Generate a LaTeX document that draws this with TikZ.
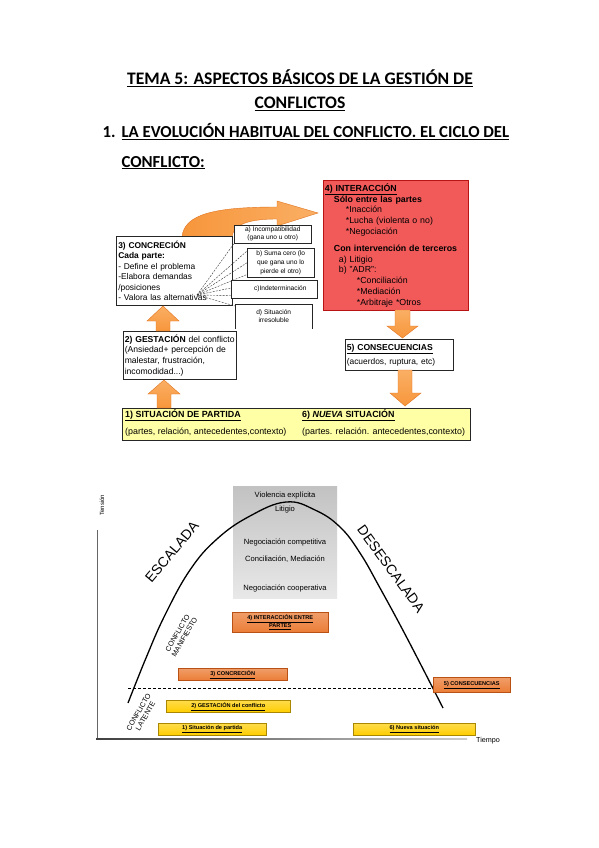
\documentclass[tikz,border=0pt]{standalone}
\usepackage{fontspec}
\setmainfont{Liberation Sans}
\newfontfamily\titlefont{Carlito}
\definecolor{arrowor}{RGB}{247,150,60}
\definecolor{arrowlt}{RGB}{250,175,100}
\definecolor{arrowbd}{RGB}{225,115,30}
\definecolor{redfill}{RGB}{242,90,90}
\definecolor{redbd}{RGB}{185,20,20}
\definecolor{yelfill}{RGB}{255,255,165}
\definecolor{barorange}{RGB}{235,125,55}
\definecolor{barorangebd}{RGB}{185,80,20}
\definecolor{baryellow}{RGB}{255,205,0}
\definecolor{baryellowbd}{RGB}{170,135,0}
\newcommand\fsz[2]{\fontsize{#1}{#2}\selectfont}
\begin{document}
\begin{tikzpicture}[x=1pt,y=-1pt,
  box/.style={draw=black!85, line width=0.6pt, fill=white, anchor=north west, inner sep=0pt, align=left},
  sbox/.style={draw=black!85, line width=0.5pt, fill=white, anchor=north west, inner sep=0pt, align=center, font=\fsz{6.6}{8}},
  fan/.style={black!80, line width=0.4pt, dash pattern=on 2pt off 1.2pt},
  blk/.style={top color=arrowlt, bottom color=arrowor, draw=arrowbd, line width=0.4pt},
  obar/.style={draw=barorangebd, line width=0.5pt, top color=barorange!75!white, bottom color=barorange, anchor=north west, inner sep=0pt, font=\fsz{5.6}{6.4}\bfseries, align=center},
  ybar/.style={draw=baryellowbd, line width=0.5pt, top color=baryellow!70!white, bottom color=baryellow, anchor=north west, inner sep=0pt, font=\fsz{5.6}{6.4}\bfseries, align=center},
  grtxt/.style={font=\fsz{7.6}{9}},
  ttl/.style={font=\titlefont\fsz{17.6}{21}\bfseries},
  ttlb/.style={font=\titlefont\fsz{16.8}{21}\bfseries}
]
\useasboundingbox[fill=white] (0,0) rectangle (599,848);

% ---------- titles
\node[ttl, anchor=base] (t1) at (300,85) {\underline{TEMA 5: ASPECTOS BÁSICOS DE LA GESTIÓN DE}};
\node[ttl, anchor=base] (t2) at (300,109) {\underline{CONFLICTOS}};
\node[ttlb, anchor=base west] (n1) at (99,138) {1.};
\node[ttlb, anchor=base west] (t3) at (118,138) {\underline{LA EVOLUCIÓN HABITUAL DEL CONFLICTO. EL CICLO DEL}};
\node[ttlb, anchor=base west] (t4) at (118,167) {\underline{CONFLICTO:}};

% ---------- top diagram
% curved arrow 3 -> 4
\shade[left color=arrowor, right color=arrowlt, draw=arrowbd, line width=0.4pt]
  (182,237) .. controls (184,214) and (215,207) .. (277,207) -- (277,201) -- (318,213)
  -- (277,226) -- (277,219) .. controls (245,219) and (233,226) .. (232,237) -- cycle;

% box 3
\node[box, minimum width=115, minimum height=69, text width=112, inner xsep=2pt, font=\fsz{8.4}{10.4}] (b3) at (116,236)
 {\textbf{3) CONCRECIÓN}\\ \textbf{Cada parte:}\\ - Define el problema\\ -Elabora demandas\\ /posiciones\\ - Valora las alternativas};

% small boxes a-d
\node[sbox, minimum width=77, minimum height=18] (ba) at (234,225) {a) Incompatibilidad\\(gana uno u otro)};
\node[sbox, minimum width=67, minimum height=29, font=\fsz{6.6}{8.6}] (bb) at (247,248) {b) Suma cero (lo\\que gana uno lo\\pierde el otro)};
\node[sbox, minimum width=86, minimum height=18] (bc) at (231,280) {\hspace*{12pt}c)Indeterminación};
\node[sbox, draw=none, minimum width=77, minimum height=24] (bd) at (235,304) {d) Situación\\irresoluble};
\draw[black!85, line width=0.5pt] (bd.south west) -- (bd.north west) -- (bd.north east) -- (bd.south east);

\coordinate (src) at (197,295);
\draw[fan] (src) -- (ba.south west);
\draw[fan] (src) -- ([yshift=-3]bb.north west);
\draw[fan] (src) -- (bb.west);
\draw[fan] (src) -- ([yshift=3]bb.south west);
\draw[fan] (src) -- ([yshift=-8]bc.north west);
\draw[fan] (src) -- ([yshift=3]bc.south west);
\draw[fan] (src) -- ([yshift=-2]bd.north west);

% box 2
\node[box, minimum width=112, minimum height=48, text width=110, inner xsep=1.5pt, font=\fsz{8.6}{10.6}] (b2) at (123,331)
 {\textbf{2) GESTACIÓN} del conflicto\\ (Ansiedad+ percepción de\\ malestar, frustración,\\ incomodidad...)};

% box 4
\node[box, fill=redfill, draw=redbd, line width=0.8pt, minimum width=144, minimum height=130, text width=142, inner xsep=1.5pt, font=\fsz{8.8}{10.8}] (b4) at (323,180)
 {\underline{\textbf{4) INTERACCIÓN}}\\
  \hspace*{9pt}\textbf{Sólo entre las partes}\\
  \hspace*{21pt}*Inacción\\
  \hspace*{21pt}*Lucha (violenta o no)\\
  \hspace*{21pt}*Negociación\\[6pt]
  \hspace*{9pt}\textbf{Con intervención de terceros}\\
  \hspace*{14pt}a) Litigio\\
  \hspace*{14pt}b) "ADR":\\
  \hspace*{32pt}*Conciliación\\
  \hspace*{32pt}*Mediación\\
  \hspace*{32pt}*Arbitraje *Otros};

% box 5
\node[box, minimum width=108, minimum height=31, text width=105, inner xsep=1.5pt, font=\fsz{8.6}{14}] (b5) at (345,339)
 {\underline{\textbf{5) CONSECUENCIAS}}\\ {\fsz{8.4}{14}(acuerdos, ruptura, etc)}};

% bottom yellow box
\node[box, fill=yelfill, minimum width=348, minimum height=32] (b1) at (122,408) {};
\node[anchor=north west, inner sep=0pt, align=left, font=\fsz{8.9}{17.5}] (s1) at (125,409)
 {\underline{\textbf{1) SITUACIÓN DE PARTIDA}}\\ (partes, relación, antecedentes,contexto)};
\node[anchor=north west, inner sep=0pt, align=left, font=\fsz{8.9}{17.5}] (s6) at (302,409)
 {\underline{\textbf{6) \textit{NUEVA} SITUACIÓN}}\\ (partes. relación. antecedentes,contexto)};

% block arrows
\path[blk] (157,408) -- (157,394) -- (148,394) -- (164,380) -- (180,394) -- (171,394) -- (171,408) -- cycle;
\path[blk] (156,331) -- (156,321) -- (147,321) -- (163,306) -- (179,321) -- (170,321) -- (170,331) -- cycle;
\path[blk] (395,310) -- (395,326) -- (387,326) -- (402.5,338) -- (418,326) -- (410,326) -- (410,310) -- cycle;
\path[blk] (398,370) -- (398,393) -- (390,393) -- (405,406) -- (421,393) -- (412,393) -- (412,370) -- cycle;

% ---------- bottom chart
\shade[top color=black!24, bottom color=black!9] (233,486) rectangle (337,598);
\node[grtxt] (g1) at (285,495) {Violencia explícita};
\node[grtxt] (g2) at (285,510) {Litigio};
\node[grtxt] (g3) at (285,542) {Negociación competitiva};
\node[grtxt] (g4) at (285,559) {Conciliación, Mediación};
\node[grtxt] (g5) at (285,588) {Negociación cooperativa};

% axes
\draw[black!60, line width=0.7pt] (97,530) -- (97,739);
\shade[left color=black!75, right color=black!20] (96,738.3) rectangle (467,739.7);
\node[rotate=90, font=\fsz{6}{7}] (tens) at (102,505) {Tensión};
\node[font=\fsz{7.2}{8}] (tiem) at (488,741) {Tiempo};

% dashed line
\draw[black, line width=0.7pt, dash pattern=on 3pt off 2pt] (128,688) -- (433,688);

% curve
\draw[black, line width=1.3pt] plot[smooth, tension=0.7] coordinates
 {(128,703) (146,658) (165,615) (190,570) (217,539) (250,516) (286,502) (315,510) (340,527) (360,553) (380,588) (407,638) (443,708)};

% rotated labels
\node[rotate=50, font=\fsz{14}{16}] (esc) at (172,552) {ESCALADA};
\node[rotate=-54, font=\fsz{14}{16}] (desc) at (391,569) {DESESCALADA};
\node[rotate=60, align=center, font=\fsz{7.2}{8}] (cman) at (181,635) {CONFLICTO\\MANIFIESTO};
\node[rotate=60, align=center, font=\fsz{7.2}{8}] (clat) at (142,714) {CONFLICTO\\LATENTE};

% bars
\node[obar, minimum width=96, minimum height=20] (i4) at (232,612) {\underline{4) INTERACCIÓN ENTRE}\\\underline{PARTES}};
\node[obar, minimum width=109, minimum height=12] (i3) at (178,668) {\underline{3) CONCRECIÓN}};
\node[ybar, minimum width=124, minimum height=12] (i2) at (166,700) {\underline{2) GESTACIÓN del conflicto}};
\node[ybar, minimum width=108, minimum height=12] (i1) at (158,723) {\underline{1) Situación de partida}};
\node[obar, minimum width=77, minimum height=15] (i5) at (433,677) {\underline{5) CONSECUENCIAS}};
\node[ybar, minimum width=122, minimum height=12] (i6) at (353,723) {\underline{6) Nueva situación}};
\end{tikzpicture}
\end{document}
